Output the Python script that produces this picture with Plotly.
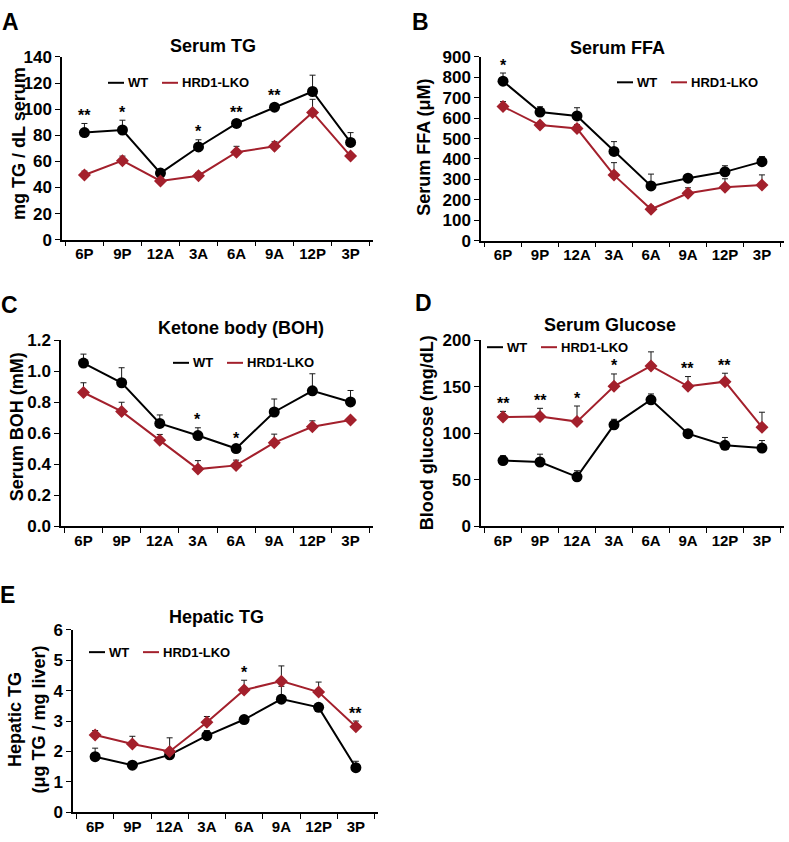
import plotly.graph_objects as go

# ---------------- data ----------------
categories = ["6P", "9P", "12A", "3A", "6A", "9A", "12P", "3P"]

tg_wt = [82, 84, 51, 71, 89, 101.5, 113.5, 74.5]
tg_wt_err = [7, 7.5, 1.5, 5.5, 2, 2.5, 12.5, 7.5]
tg_ko = [49.5, 60.5, 45, 49, 67, 71.5, 97.5, 64]
tg_ko_err = [3, 3.5, 1, 2.5, 4.5, 3.5, 10, 2]
tg_sig = ["**", "*", "", "*", "**", "**", "", ""]

ffa_wt = [781, 630, 611, 437, 268, 306, 337, 387]
ffa_wt_err = [40, 26, 40, 48, 58, 16, 30, 25]
ffa_ko = [657, 566, 549, 321, 154, 232, 262, 272]
ffa_ko_err = [24, 10, 19, 61, 16, 27, 41, 50]
ffa_sig = ["*", "", "", "", "", "", "", ""]

boh_wt = [1.053, 0.926, 0.663, 0.585, 0.501, 0.737, 0.874, 0.802]
boh_wt_err = [0.058, 0.097, 0.055, 0.05, 0.015, 0.084, 0.11, 0.074]
boh_ko = [0.863, 0.741, 0.554, 0.368, 0.392, 0.539, 0.642, 0.686]
boh_ko_err = [0.063, 0.059, 0.038, 0.055, 0.034, 0.055, 0.038, 0.012]
boh_sig = ["", "", "", "*", "*", "", "", ""]

glu_wt = [70.5, 69, 53, 109, 136, 99.5, 87, 84]
glu_wt_err = [5.3, 8.4, 6.6, 6, 6.3, 4.2, 8.4, 8.1]
glu_ko = [117.5, 118, 112.5, 150.5, 172.5, 150.5, 155.5, 106.5]
glu_ko_err = [6, 8.8, 16.8, 13.3, 15.1, 10.5, 9.1, 16.1]
glu_sig = ["**", "**", "*", "*", "", "**", "**", ""]

htg_wt = [1.83, 1.55, 1.89, 2.52, 3.05, 3.72, 3.45, 1.47]
htg_wt_err = [0.28, 0.03, 0.12, 0.17, 0.12, 0.42, 0.12, 0.21]
htg_ko = [2.54, 2.25, 2.0, 2.96, 4.02, 4.31, 3.95, 2.81]
htg_ko_err = [0.15, 0.25, 0.45, 0.19, 0.32, 0.5, 0.33, 0.19]
htg_sig = ["", "", "", "", "*", "", "", "**"]

series_names = ["WT", "HRD1-LKO"]
y_ticks = {
    "A": [0, 20, 40, 60, 80, 100, 120, 140],
    "B": [0, 100, 200, 300, 400, 500, 600, 700, 800, 900],
    "C": [0.0, 0.2, 0.4, 0.6, 0.8, 1.0, 1.2],
    "D": [0, 50, 100, 150, 200],
    "E": [0, 1, 2, 3, 4, 5, 6],
}

# ---------------- styling ----------------
W, H = 789, 842
FONT = "Liberation Sans, Arial, sans-serif"
BLACK = "#000000"
RED = "#A3202C"


def fx(px):
    return px / W


def fy(py):
    return 1 - py / H


panels = [
    dict(key="A", wt=tg_wt, wte=tg_wt_err, ko=tg_ko, koe=tg_ko_err, sig=tg_sig,
         title="Serum TG", ytitle="mg TG / dL serum",
         xd=(62, 373), yd=(49, 236), tpos=(213, 38), ypos=(19, 138), lpos=(108, 75.5),
         letter=(10, 13), fmt=""),
    dict(key="B", wt=ffa_wt, wte=ffa_wt_err, ko=ffa_ko, koe=ffa_ko_err, sig=ffa_sig,
         title="Serum FFA", ytitle="Serum FFA (μM)",
         xd=(481, 784), yd=(49, 237), tpos=(617, 40), ypos=(424, 142), lpos=(617, 75),
         letter=(420, 13), fmt=""),
    dict(key="C", wt=boh_wt, wte=boh_wt_err, ko=boh_ko, koe=boh_ko_err, sig=boh_sig,
         title="Ketone body (BOH)", ytitle="Serum BOH (mM)",
         xd=(61, 373), yd=(339, 529), tpos=(241, 326), ypos=(17, 428), lpos=(173, 362),
         letter=(9, 303), fmt=".1f"),
    dict(key="D", wt=glu_wt, wte=glu_wt_err, ko=glu_ko, koe=glu_ko_err, sig=glu_sig,
         title="Serum Glucose", ytitle="Blood glucose (mg/dL)",
         xd=(481, 784), yd=(339, 529), tpos=(610, 323), ypos=(427, 434), lpos=(487, 346),
         letter=(423, 301), fmt=""),
    dict(key="E", wt=htg_wt, wte=htg_wt_err, ko=htg_ko, koe=htg_ko_err, sig=htg_sig,
         title="Hepatic TG", ytitle="Hepatic TG<br>(μg TG / mg liver)",
         xd=(73, 378), yd=(635, 822), tpos=(216, 622), ypos=(27, 727), lpos=(89, 658),
         letter=(8, 600), fmt=""),
]

fig = go.Figure()
annotations = []
shapes = []
layout_axes = {}

for i, p in enumerate(panels):
    n = i + 1
    xa = "x" if n == 1 else f"x{n}"
    ya = "y" if n == 1 else f"y{n}"

    for name, vals, errs, color, symbol, size in [
        (series_names[0], p["wt"], p["wte"], BLACK, "circle", 11),
        (series_names[1], p["ko"], p["koe"], RED, "diamond", 10),
    ]:
        fig.add_trace(go.Scatter(
            x=categories, y=vals, mode="lines+markers", name=name,
            line=dict(color=color, width=2),
            marker=dict(color=color, symbol=symbol, size=size, line=dict(width=0)),
            error_y=dict(type="data", symmetric=False, array=errs,
                         arrayminus=[0] * len(errs), color="#1a1a1a",
                         thickness=1, width=3),
            xaxis=xa, yaxis=ya, showlegend=False, hoverinfo="skip",
        ))

    yt = y_ticks[p["key"]]
    layout_axes["xaxis" if n == 1 else f"xaxis{n}"] = dict(
        domain=[fx(p["xd"][0]), fx(p["xd"][1])], anchor=ya,
        type="category", categoryorder="array", categoryarray=categories,
        tickson="boundaries", ticks="outside", ticklen=5, tickwidth=1.3,
        tickcolor=BLACK, showline=True, linecolor=BLACK, linewidth=1.5,
        showgrid=False, zeroline=False, fixedrange=True,
        tickfont=dict(family=FONT, size=15, color=BLACK, weight="bold"),
    )
    layout_axes["yaxis" if n == 1 else f"yaxis{n}"] = dict(
        domain=[fy(p["yd"][1]), fy(p["yd"][0])], anchor=xa,
        range=[yt[0], yt[-1]], tickvals=yt, tickformat=p["fmt"],
        ticks="outside", ticklen=5, tickwidth=1.3, tickcolor=BLACK,
        showline=True, linecolor=BLACK, linewidth=1.5,
        showgrid=False, zeroline=False, fixedrange=True,
        tickfont=dict(family=FONT, size=17, color=BLACK, weight="bold"),
    )

    # legend key (short line + bold label), placed like the original
    lx, ly = p["lpos"]
    for k, (name, color) in enumerate(zip(series_names, [BLACK, RED])):
        x0 = lx + 54 * k
        shapes.append(dict(type="line", xref="paper", yref="paper",
                           x0=fx(x0), x1=fx(x0 + 16), y0=fy(ly), y1=fy(ly),
                           line=dict(color=color, width=2)))
        annotations.append(dict(
            text=name, x=fx(x0 + 18), y=fy(ly), xref="paper", yref="paper",
            xanchor="left", yanchor="middle", showarrow=False,
            font=dict(family=FONT, size=13, color=BLACK, weight="bold"),
        ))

    annotations.append(dict(
        text=p["title"], x=fx(p["tpos"][0]), y=fy(p["tpos"][1]), xref="paper", yref="paper",
        xanchor="center", yanchor="middle", showarrow=False,
        font=dict(family=FONT, size=18, color=BLACK, weight="bold"),
    ))
    annotations.append(dict(
        text=p["ytitle"], x=fx(p["ypos"][0]), y=fy(p["ypos"][1]), xref="paper", yref="paper",
        xanchor="center", yanchor="middle", textangle=-90, showarrow=False,
        font=dict(family=FONT, size=18, color=BLACK, weight="bold"),
    ))
    annotations.append(dict(
        text=p["key"], x=fx(p["letter"][0]), y=fy(p["letter"][1]), xref="paper", yref="paper",
        xanchor="center", yanchor="middle", showarrow=False,
        font=dict(family=FONT, size=23, color=BLACK, weight="bold"),
    ))
    for c, s, a, ae, b, be in zip(categories, p["sig"], p["wt"], p["wte"], p["ko"], p["koe"]):
        if s:
            top = max(a + ae, b + be)
            annotations.append(dict(
                text=s, x=c, y=top, xref=xa, yref=ya, xanchor="center", yanchor="middle",
                yshift=8, showarrow=False,
                font=dict(family=FONT, size=16, color=BLACK, weight="bold"),
            ))

fig.update_layout(
    width=W, height=H, margin=dict(l=0, r=0, t=0, b=0),
    paper_bgcolor="white", plot_bgcolor="white",
    font=dict(family=FONT, color=BLACK),
    annotations=annotations, shapes=shapes, showlegend=False,
    **layout_axes,
)

fig.write_html("out.html", config={"displayModeBar": False},
               post_script="document.body.style.margin='0px';")
